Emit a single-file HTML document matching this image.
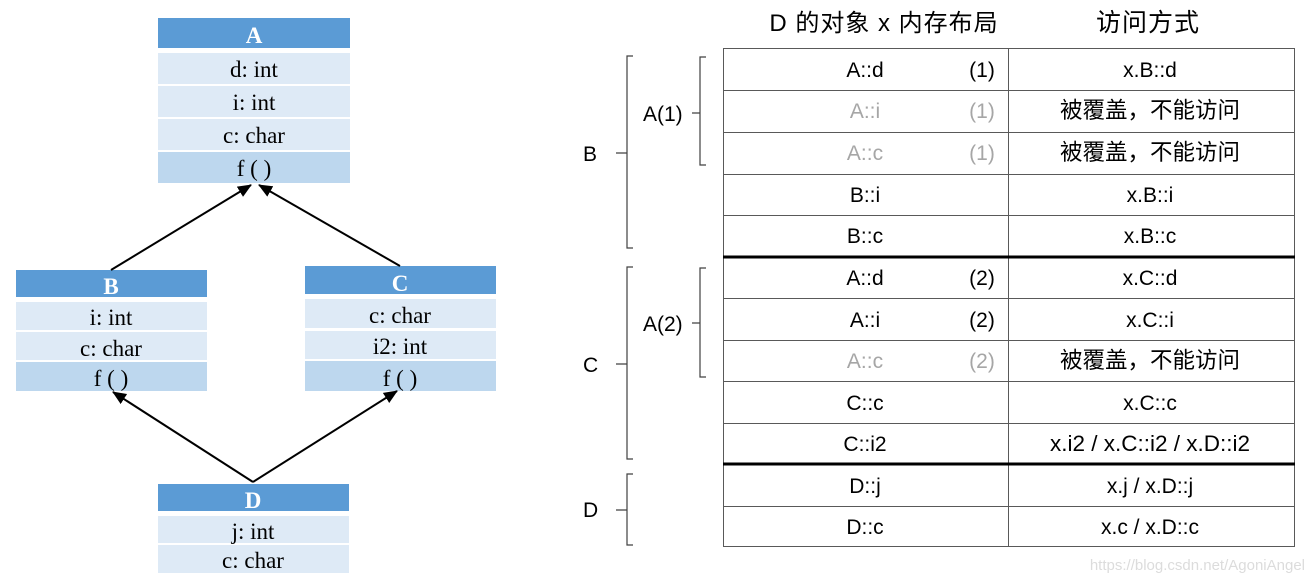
<!DOCTYPE html>
<html><head><meta charset="utf-8"><style>
html,body{margin:0;padding:0;background:#fff;width:1313px;height:581px;overflow:hidden}
svg{display:block}
.s{font-family:"Liberation Serif",serif;font-size:23px;fill:#000}
.h{font-family:"Liberation Serif",serif;font-size:23px;font-weight:bold;fill:#fff}
.t{font-family:"Liberation Sans","Noto Sans CJK SC",sans-serif;font-size:21px;fill:#000}
.c{font-size:22.5px}
.hd{font-size:24px;letter-spacing:1px}
.g{fill:#a6a6a6}
</style></head><body>
<svg width="1313" height="581" viewBox="0 0 1313 581" xmlns="http://www.w3.org/2000/svg">
<defs><marker id="ar" markerWidth="14" markerHeight="12" refX="13" refY="6" orient="auto" markerUnits="userSpaceOnUse"><path d="M0,0 L14,6 L0,12 z" fill="#000"/></marker></defs>
<!-- A -->
<rect x="158" y="18" width="192" height="30" fill="#5b9bd5"/>
<rect x="158" y="53" width="192" height="31" fill="#deeaf6"/>
<rect x="158" y="86" width="192" height="31" fill="#deeaf6"/>
<rect x="158" y="119" width="192" height="31" fill="#deeaf6"/>
<rect x="158" y="152" width="192" height="31" fill="#bdd7ee"/>
<g text-anchor="middle">
<text class="h" x="254" y="43">A</text>
<text class="s" x="254" y="77">d: int</text>
<text class="s" x="254" y="110">i: int</text>
<text class="s" x="254" y="143">c: char</text>
<text class="s" x="254" y="176">f ( )</text>
</g>
<!-- B -->
<rect x="16" y="270" width="191" height="27" fill="#5b9bd5"/>
<rect x="16" y="302" width="191" height="28" fill="#deeaf6"/>
<rect x="16" y="332" width="191" height="28" fill="#deeaf6"/>
<rect x="16" y="362" width="191" height="29" fill="#bdd7ee"/>
<g text-anchor="middle">
<text class="h" x="111" y="294">B</text>
<text class="s" x="111" y="325">i: int</text>
<text class="s" x="111" y="356">c: char</text>
<text class="s" x="111" y="386">f ( )</text>
</g>
<!-- C -->
<rect x="305" y="266" width="191" height="28" fill="#5b9bd5"/>
<rect x="305" y="299" width="191" height="29" fill="#deeaf6"/>
<rect x="305" y="331" width="191" height="28" fill="#deeaf6"/>
<rect x="305" y="361" width="191" height="30" fill="#bdd7ee"/>
<g text-anchor="middle">
<text class="h" x="400" y="291">C</text>
<text class="s" x="400" y="323">c: char</text>
<text class="s" x="400" y="354">i2: int</text>
<text class="s" x="400" y="386">f ( )</text>
</g>
<!-- D -->
<rect x="158" y="484" width="191" height="27" fill="#5b9bd5"/>
<rect x="158" y="516" width="191" height="27" fill="#deeaf6"/>
<rect x="158" y="545" width="191" height="28" fill="#deeaf6"/>
<g text-anchor="middle">
<text class="h" x="253" y="508">D</text>
<text class="s" x="253" y="539">j: int</text>
<text class="s" x="253" y="568">c: char</text>
</g>
<!-- arrows -->
<g stroke="#000" stroke-width="2" fill="none">
<line x1="111" y1="270" x2="251" y2="185" marker-end="url(#ar)"/>
<line x1="400" y1="266" x2="259" y2="185" marker-end="url(#ar)"/>
<line x1="253" y1="482" x2="113" y2="392" marker-end="url(#ar)"/>
<line x1="253" y1="482" x2="397" y2="391" marker-end="url(#ar)"/>
</g>
<!-- table -->
<g stroke="#595959" stroke-width="1" fill="none">
<rect x="723.5" y="48.5" width="571" height="498"/>
<line x1="1008.5" y1="48" x2="1008.5" y2="547"/>
<line x1="723" y1="90.5" x2="1294" y2="90.5"/>
<line x1="723" y1="132.5" x2="1294" y2="132.5"/>
<line x1="723" y1="174.5" x2="1294" y2="174.5"/>
<line x1="723" y1="215.5" x2="1294" y2="215.5"/>
<line x1="723" y1="298.5" x2="1294" y2="298.5"/>
<line x1="723" y1="340.5" x2="1294" y2="340.5"/>
<line x1="723" y1="381.5" x2="1294" y2="381.5"/>
<line x1="723" y1="423.5" x2="1294" y2="423.5"/>
<line x1="723" y1="506.5" x2="1294" y2="506.5"/>
</g>
<line x1="723" y1="257" x2="1295" y2="257" stroke="#000" stroke-width="3"/>
<line x1="723" y1="464" x2="1295" y2="464" stroke="#000" stroke-width="3"/>
<g class="t" text-anchor="middle">
<text x="884" y="31" class="hd">D 的对象 x 内存布局</text>
<text x="1148" y="31" class="hd" style="font-size:25px">访问方式</text>
<text x="865" y="77">A::d</text>
<text x="865" y="118" class="g">A::i</text>
<text x="865" y="160" class="g">A::c</text>
<text x="865" y="202">B::i</text>
<text x="865" y="243">B::c</text>
<text x="865" y="285">A::d</text>
<text x="865" y="327">A::i</text>
<text x="865" y="368" class="g">A::c</text>
<text x="865" y="410">C::c</text>
<text x="865" y="451">C::i2</text>
<text x="865" y="493">D::j</text>
<text x="865" y="534">D::c</text>
<text x="982" y="77">(1)</text>
<text x="982" y="118" class="g">(1)</text>
<text x="982" y="160" class="g">(1)</text>
<text x="982" y="285">(2)</text>
<text x="982" y="327">(2)</text>
<text x="982" y="368" class="g">(2)</text>
<text x="1150" y="77">x.B::d</text>
<text x="1150" y="118" class="c">被覆盖，不能访问</text>
<text x="1150" y="160" class="c">被覆盖，不能访问</text>
<text x="1150" y="202">x.B::i</text>
<text x="1150" y="243">x.B::c</text>
<text x="1150" y="285">x.C::d</text>
<text x="1150" y="327">x.C::i</text>
<text x="1150" y="368" class="c">被覆盖，不能访问</text>
<text x="1150" y="410">x.C::c</text>
<text x="1150" y="451" style="font-size:22.5px">x.i2 / x.C::i2 / x.D::i2</text>
<text x="1150" y="493">x.j / x.D::j</text>
<text x="1150" y="534">x.c / x.D::c</text>
</g>
<!-- brackets -->
<g stroke="#404040" stroke-width="1.2" fill="none">
<path d="M633,56 L627,56 L627,248 L633,248 M627,153 L616,153"/>
<path d="M706,57 L700,57 L700,165 L706,165 M700,113 L692,113"/>
<path d="M633,267 L627,267 L627,459 L633,459 M627,364 L616,364"/>
<path d="M706,268 L700,268 L700,377 L706,377 M700,323 L692,323"/>
<path d="M633,474 L627,474 L627,545 L633,545 M627,510 L616,510"/>
</g>
<g class="t">
<text x="583" y="161">B</text>
<text x="643" y="121">A(1)</text>
<text x="583" y="372">C</text>
<text x="643" y="331">A(2)</text>
<text x="583" y="517">D</text>
</g>
<text x="1305" y="570" text-anchor="end" font-family="Liberation Sans,sans-serif" font-size="15" fill="#dcdcdc">https://blog.csdn.net/AgoniAngel</text>
</svg>
</body></html>
